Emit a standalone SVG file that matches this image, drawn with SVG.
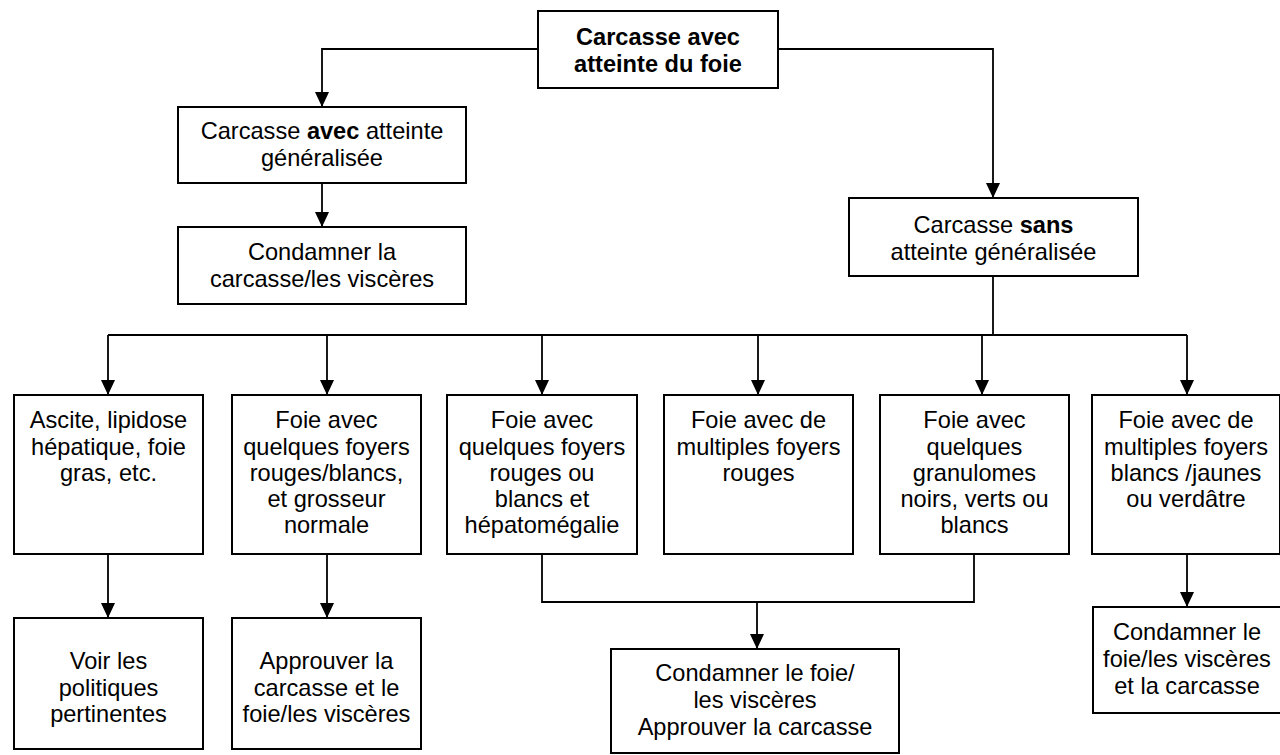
<svg xmlns="http://www.w3.org/2000/svg" width="1280" height="755" viewBox="0 0 1280 755">
<style>
.box{fill:#fff;stroke:#000;stroke-width:2}
.t{font-family:"Liberation Sans",Arial,sans-serif;font-size:23.6px;fill:#000;text-anchor:middle}
.b{font-weight:bold}
.c{fill:none;stroke:#000;stroke-width:1.8}
</style>
<defs>
<marker id="ah" markerUnits="userSpaceOnUse" markerWidth="15" markerHeight="14" viewBox="0 0 15 14" refX="15" refY="7" orient="auto">
<path d="M0,0 L15,7 L0,14 Z" fill="#000"/>
</marker>
</defs>
<rect width="1280" height="755" fill="#fff"/>
<g id="connectors">
<path class="c" d="M538,49 H322 V107" marker-end="url(#ah)"/>
<path class="c" d="M778,49 H993 V198" marker-end="url(#ah)"/>
<path class="c" d="M322,183 V227" marker-end="url(#ah)"/>
<path class="c" d="M993,276 V335"/>
<path class="c" d="M108,335 H1187"/>
<path class="c" d="M108,335 V395" marker-end="url(#ah)"/>
<path class="c" d="M327,335 V395" marker-end="url(#ah)"/>
<path class="c" d="M542,335 V395" marker-end="url(#ah)"/>
<path class="c" d="M758,335 V395" marker-end="url(#ah)"/>
<path class="c" d="M982,335 V395" marker-end="url(#ah)"/>
<path class="c" d="M1187,335 V395" marker-end="url(#ah)"/>
<path class="c" d="M108,554 V618" marker-end="url(#ah)"/>
<path class="c" d="M327,554 V618" marker-end="url(#ah)"/>
<path class="c" d="M542,554 V602 H974 V554"/>
<path class="c" d="M757,602 V649" marker-end="url(#ah)"/>
<path class="c" d="M1187,554 V607" marker-end="url(#ah)"/>
</g>
<g id="root">
<rect class="box" x="538" y="11" width="240" height="77"/>
<text class="t b" x="658" y="45">Carcasse avec</text>
<text class="t b" x="658" y="71.5">atteinte du foie</text>
</g>
<g id="avec">
<rect class="box" x="178" y="107" width="288" height="76"/>
<text class="t" x="322" y="139">Carcasse <tspan class="b">avec</tspan> atteinte</text>
<text class="t" x="322" y="166">généralisée</text>
</g>
<g id="condamner-carcasse">
<rect class="box" x="178" y="227" width="288" height="77"/>
<text class="t" x="322" y="260">Condamner la</text>
<text class="t" x="322" y="287">carcasse/les viscères</text>
</g>
<g id="sans">
<rect class="box" x="849" y="198" width="289" height="78"/>
<text class="t" x="993.5" y="233">Carcasse <tspan class="b">sans</tspan></text>
<text class="t" x="993.5" y="260">atteinte généralisée</text>
</g>
<g id="ascite">
<rect class="box" x="14" y="395" width="189" height="159"/>
<text class="t" x="108.5" y="428">Ascite, lipidose</text>
<text class="t" x="108.5" y="454.5">hépatique, foie</text>
<text class="t" x="108.5" y="481">gras, etc.</text>
</g>
<g id="quelques-normale">
<rect class="box" x="232" y="395" width="189" height="159"/>
<text class="t" x="326.5" y="428">Foie avec</text>
<text class="t" x="326.5" y="454.5">quelques foyers</text>
<text class="t" x="326.5" y="481">rouges/blancs,</text>
<text class="t" x="326.5" y="507">et grosseur</text>
<text class="t" x="326.5" y="533">normale</text>
</g>
<g id="quelques-hepatomegalie">
<rect class="box" x="447" y="395" width="190" height="159"/>
<text class="t" x="542" y="428">Foie avec</text>
<text class="t" x="542" y="454.5">quelques foyers</text>
<text class="t" x="542" y="481">rouges ou</text>
<text class="t" x="542" y="507">blancs et</text>
<text class="t" x="542" y="533">hépatomégalie</text>
</g>
<g id="multiples-rouges">
<rect class="box" x="664" y="395" width="189" height="159"/>
<text class="t" x="758.5" y="428">Foie avec de</text>
<text class="t" x="758.5" y="454.5">multiples foyers</text>
<text class="t" x="758.5" y="481">rouges</text>
</g>
<g id="granulomes">
<rect class="box" x="880" y="395" width="189" height="159"/>
<text class="t" x="974.5" y="428">Foie avec</text>
<text class="t" x="974.5" y="454.5">quelques</text>
<text class="t" x="974.5" y="481">granulomes</text>
<text class="t" x="974.5" y="507">noirs, verts ou</text>
<text class="t" x="974.5" y="533">blancs</text>
</g>
<g id="multiples-blancs">
<rect class="box" x="1092" y="395" width="188" height="159"/>
<text class="t" x="1186" y="428">Foie avec de</text>
<text class="t" x="1186" y="454.5">multiples foyers</text>
<text class="t" x="1186" y="481">blancs /jaunes</text>
<text class="t" x="1186" y="507">ou verdâtre</text>
</g>
<g id="voir">
<rect class="box" x="14" y="618" width="189" height="131"/>
<text class="t" x="108.5" y="669">Voir les</text>
<text class="t" x="108.5" y="696">politiques</text>
<text class="t" x="108.5" y="722">pertinentes</text>
</g>
<g id="approuver">
<rect class="box" x="232" y="618" width="189" height="131"/>
<text class="t" x="326.5" y="669">Approuver la</text>
<text class="t" x="326.5" y="696">carcasse et le</text>
<text class="t" x="326.5" y="722">foie/les viscères</text>
</g>
<g id="condamner-foie">
<rect class="box" x="611" y="649" width="288" height="104"/>
<text class="t" x="755" y="681">Condamner le foie/</text>
<text class="t" x="755" y="708">les viscères</text>
<text class="t" x="755" y="735">Approuver la carcasse</text>
</g>
<g id="condamner-tout">
<rect class="box" x="1093" y="607" width="188" height="106"/>
<text class="t" x="1187" y="640">Condamner le</text>
<text class="t" x="1187" y="667">foie/les viscères</text>
<text class="t" x="1187" y="694">et la carcasse</text>
</g>
</svg>
